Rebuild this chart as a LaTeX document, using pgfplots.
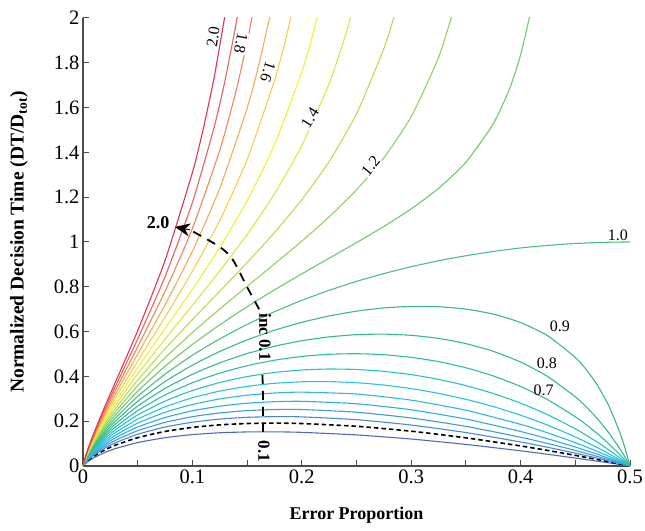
\documentclass[border=0pt]{standalone}
\usepackage{fontspec}
\setmainfont{Liberation Serif}
\usepackage{pgfplots}
\pgfplotsset{compat=1.18}
\usetikzlibrary{arrows.meta}

\definecolor{colbot}{RGB}{80,105,190}
\definecolor{col01}{RGB}{75,135,215}
\definecolor{col02}{RGB}{60,155,225}
\definecolor{col03}{RGB}{50,170,230}
\definecolor{col04}{RGB}{45,185,230}
\definecolor{col05}{RGB}{40,195,220}
\definecolor{col06}{RGB}{40,195,195}
\definecolor{col07}{RGB}{45,190,170}
\definecolor{col08}{RGB}{50,185,150}
\definecolor{col09}{RGB}{60,185,135}
\definecolor{col10}{RGB}{75,190,130}
\definecolor{col11}{RGB}{110,200,110}
\definecolor{col12}{RGB}{145,210,95}
\definecolor{col13}{RGB}{185,222,80}
\definecolor{col14}{RGB}{215,232,70}
\definecolor{col15}{RGB}{245,240,45}
\definecolor{col16}{RGB}{248,205,75}
\definecolor{col17}{RGB}{245,170,85}
\definecolor{col18}{RGB}{242,135,85}
\definecolor{col19}{RGB}{236,95,95}
\definecolor{col20}{RGB}{225,50,85}

\begin{document}
\begin{tikzpicture}
\begin{axis}[
  scale only axis, width=547pt, height=448pt,
  xmin=0, xmax=0.5, ymin=0, ymax=2,
  axis x line*=bottom, axis y line*=left,
  axis line style={line width=1.3pt, black!70},
  tick align=inside,
  xtick={0,0.1,0.2,0.3,0.4,0.5}, minor x tick num=1,
  ytick={0,0.2,0.4,0.6,0.8,1,1.2,1.4,1.6,1.8,2},
  major tick length=6pt, minor tick length=6pt,
  tick style={black!70, line width=1pt},
  /pgf/number format/assume math mode=true,
  ticklabel style={font=\fontsize{20.5}{22}\selectfont},
  xlabel={\textbf{Error Proportion}},
  ylabel={\textbf{Normalized Decision Time (DT/D\textsubscript{tot})}},
  xlabel style={font=\fontsize{18}{20}\selectfont\bfseries, at={(axis description cs:0.5,-0.109)}, anchor=center},
  ylabel style={font=\fontsize{19.5}{21}\selectfont\bfseries, at={(axis description cs:-0.117,0.5)}, anchor=center},
  clip mode=individual,
  crv/.style={line width=1.1pt, smooth, tension=0.35},
]
% lowest blue curve
\addplot[crv, colbot] coordinates {(0,0)(0.002,0.01041)(0.005,0.02181)(0.01,0.0370)(0.02,0.0604)(0.03,0.0783)(0.05,0.1046)(0.075,0.1264)(0.1,0.1402)(0.125,0.1483)(0.15,0.1521)(0.175,0.1526)(0.2,0.1502)(0.25,0.1388)(0.3,0.1204)(0.35,0.0963)(0.4,0.0678)(0.425,0.0521)(0.45,0.0355)(0.47,0.0217)(0.48,0.0146)(0.49,0.0073)(0.5,0)};
% optimal curve (dashed)
\addplot[black, line width=1.6pt, dash pattern=on 4.5pt off 3pt, smooth, tension=0.35] coordinates {(0,0)(0.002,0.01227)(0.005,0.02578)(0.01,0.04389)(0.02,0.0720)(0.03,0.0939)(0.05,0.1265)(0.075,0.1542)(0.1,0.1724)(0.125,0.1837)(0.15,0.1897)(0.175,0.1914)(0.2,0.1896)(0.25,0.1773)(0.3,0.1554)(0.35,0.1258)(0.4,0.0896)(0.425,0.0692)(0.45,0.0475)(0.47,0.0291)(0.48,0.0196)(0.49,0.0099)(0.5,0)};
% 0.1
\addplot[crv, col01] coordinates {(0,0)(0.002,0.01352)(0.005,0.02844)(0.01,0.04855)(0.02,0.0800)(0.03,0.1046)(0.05,0.1418)(0.075,0.1740)(0.1,0.1955)(0.125,0.2094)(0.15,0.2173)(0.175,0.2204)(0.2,0.2193)(0.25,0.2068)(0.3,0.1829)(0.35,0.1493)(0.4,0.1073)(0.425,0.0833)(0.45,0.0574)(0.47,0.0353)(0.48,0.0238)(0.49,0.0121)(0.5,0)};
% 0.2
\addplot[crv, col02] coordinates {(0,0)(0.002,0.01477)(0.005,0.03113)(0.01,0.0533)(0.02,0.0881)(0.03,0.1156)(0.05,0.1577)(0.075,0.1947)(0.1,0.2202)(0.125,0.2371)(0.15,0.2474)(0.175,0.2521)(0.2,0.2521)(0.25,0.2401)(0.3,0.2144)(0.35,0.1769)(0.4,0.1284)(0.425,0.1003)(0.45,0.0695)(0.47,0.0430)(0.48,0.0291)(0.49,0.0148)(0.5,0)};
% 0.3
\addplot[crv, col03] coordinates {(0,0)(0.002,0.01602)(0.005,0.03382)(0.01,0.0580)(0.02,0.0963)(0.03,0.1269)(0.05,0.1742)(0.075,0.2166)(0.1,0.2465)(0.125,0.2670)(0.15,0.2802)(0.175,0.2871)(0.2,0.2887)(0.25,0.2780)(0.3,0.2510)(0.35,0.2096)(0.4,0.1542)(0.425,0.1212)(0.45,0.0847)(0.47,0.0527)(0.48,0.0358)(0.49,0.0182)(0.5,0)};
% 0.4
\addplot[crv, col04] coordinates {(0,0)(0.002,0.01728)(0.005,0.03654)(0.01,0.0628)(0.02,0.1047)(0.03,0.1385)(0.05,0.1914)(0.075,0.2397)(0.1,0.2746)(0.125,0.2994)(0.15,0.3161)(0.175,0.3259)(0.2,0.3297)(0.25,0.3214)(0.3,0.2941)(0.35,0.2490)(0.4,0.1861)(0.425,0.1476)(0.45,0.1041)(0.47,0.0653)(0.48,0.0446)(0.49,0.0228)(0.5,0)};
% 0.5
\addplot[crv, col05] coordinates {(0,0)(0.002,0.01854)(0.005,0.03927)(0.01,0.0677)(0.02,0.1133)(0.03,0.1504)(0.05,0.2092)(0.075,0.2641)(0.1,0.3047)(0.125,0.3345)(0.15,0.3556)(0.175,0.3691)(0.2,0.3760)(0.225,0.3768)(0.25,0.3718)(0.275,0.3614)(0.3,0.3455)(0.325,0.3243)(0.35,0.2976)(0.375,0.2653)(0.4,0.2269)(0.425,0.1820)(0.45,0.1299)(0.46,0.1069)(0.47,0.0825)(0.48,0.0566)(0.49,0.0291)(0.5,0)};
% 0.6
\addplot[crv, col06] coordinates {(0,0)(0.002,0.01980)(0.005,0.04202)(0.01,0.0726)(0.02,0.1221)(0.03,0.1627)(0.05,0.2278)(0.075,0.2899)(0.1,0.3370)(0.125,0.3728)(0.15,0.3992)(0.175,0.4176)(0.2,0.4287)(0.225,0.4330)(0.25,0.4309)(0.275,0.4226)(0.3,0.4079)(0.325,0.3868)(0.35,0.3589)(0.375,0.3238)(0.4,0.2807)(0.425,0.2286)(0.45,0.1660)(0.46,0.1376)(0.47,0.1070)(0.48,0.0740)(0.49,0.0385)(0.5,0)};
% 0.7
\addplot[crv, col07] coordinates {(0,0)(0.002,0.02107)(0.005,0.04479)(0.01,0.0776)(0.02,0.1310)(0.03,0.1752)(0.05,0.2472)(0.075,0.3172)(0.1,0.3718)(0.125,0.4146)(0.15,0.4477)(0.175,0.4723)(0.2,0.4891)(0.225,0.4987)(0.25,0.5013)(0.275,0.4968)(0.3,0.4852)(0.325,0.4660)(0.35,0.4386)(0.375,0.4021)(0.4,0.3550)(0.425,0.2953)(0.45,0.2199)(0.46,0.1843)(0.47,0.1451)(0.48,0.1017)(0.49,0.0536)(0.495,0.0276)(0.5,0)};
% 0.8
\addplot[crv, col08] coordinates {(0,0)(0.002,0.02234)(0.005,0.04758)(0.01,0.0826)(0.02,0.1401)(0.03,0.1882)(0.05,0.2675)(0.075,0.3463)(0.1,0.4094)(0.125,0.4606)(0.15,0.5019)(0.175,0.5345)(0.2,0.5592)(0.225,0.5764)(0.25,0.5863)(0.275,0.5888)(0.3,0.5834)(0.325,0.5697)(0.35,0.5464)(0.375,0.5121)(0.4,0.4642)(0.425,0.3987)(0.45,0.3090)(0.46,0.2640)(0.47,0.2123)(0.48,0.1524)(0.49,0.0826)(0.495,0.0431)(0.5,0)};
% 0.9
\addplot[crv, col09] coordinates {(0,0)(0.002,0.02362)(0.005,0.05038)(0.01,0.0877)(0.02,0.1494)(0.03,0.2015)(0.05,0.2887)(0.075,0.3772)(0.1,0.4501)(0.125,0.5113)(0.15,0.5628)(0.175,0.6060)(0.2,0.6415)(0.225,0.6698)(0.25,0.6912)(0.275,0.7056)(0.3,0.7125)(0.325,0.7112)(0.35,0.7005)(0.375,0.6782)(0.4,0.6405)(0.425,0.5806)(0.45,0.4847)(0.46,0.4305)(0.47,0.3624)(0.48,0.2751)(0.49,0.1596)(0.495,0.0867)(0.5,0)};
% 1.0
\addplot[crv, col10] coordinates {(0,0)(0.002,0.02490)(0.005,0.05320)(0.01,0.0928)(0.02,0.1589)(0.03,0.2152)(0.05,0.3108)(0.075,0.4101)(0.1,0.4944)(0.125,0.5675)(0.15,0.6319)(0.175,0.6889)(0.2,0.7394)(0.225,0.7842)(0.25,0.8240)(0.275,0.8591)(0.3,0.8897)(0.325,0.9162)(0.35,0.9386)(0.375,0.9577)(0.4,0.9735)(0.425,0.9850)(0.45,0.9934)(0.47,0.9976)(0.48,0.9989)(0.49,0.9997)(0.5,1.0)};
% 1.1
\addplot[crv, col11] coordinates {(0,0)(0.002,0.02618)(0.005,0.05604)(0.01,0.0981)(0.02,0.1686)(0.03,0.2293)(0.05,0.3340)(0.075,0.4453)(0.1,0.5427)(0.125,0.6303)(0.15,0.7108)(0.175,0.7861)(0.2,0.8578)(0.225,0.9275)(0.25,0.9972)(0.275,1.0694)(0.3,1.1478)(0.325,1.2393)(0.35,1.3561)(0.375,1.5274)(0.39,1.685)(0.4,1.8355)(0.41,2.0525)(0.42,2.398)};
% 1.2
\addplot[crv, col12] coordinates {(0,0)(0.002,0.02747)(0.005,0.05890)(0.01,0.1033)(0.02,0.1785)(0.03,0.2439)(0.05,0.3582)(0.075,0.4829)(0.1,0.5955)(0.125,0.7007)(0.15,0.8018)(0.175,0.9018)(0.2,1.0039)(0.225,1.1122)(0.25,1.2327)(0.275,1.3755)(0.3,1.5593)(0.325,1.8238)(0.34,2.059)(0.35,2.276)};
% 1.3
\addplot[crv, col13] coordinates {(0,0)(0.002,0.02876)(0.005,0.06177)(0.01,0.1086)(0.02,0.1886)(0.03,0.2589)(0.05,0.3837)(0.075,0.5233)(0.1,0.6536)(0.125,0.7803)(0.15,0.9080)(0.175,1.0420)(0.2,1.1889)(0.225,1.3594)(0.25,1.5719)(0.275,1.8629)(0.285,2.017)(0.295,2.206)};
% 1.4
\addplot[crv, col14] coordinates {(0,0)(0.002,0.03005)(0.005,0.06467)(0.01,0.1140)(0.02,0.1989)(0.03,0.2743)(0.05,0.4104)(0.075,0.5668)(0.1,0.7178)(0.125,0.8709)(0.15,1.0334)(0.175,1.2149)(0.2,1.4304)(0.225,1.7074)(0.24,1.924)(0.25,2.102)};
% 1.5
\addplot[crv, col15] coordinates {(0,0)(0.002,0.03135)(0.005,0.06758)(0.01,0.1195)(0.02,0.2095)(0.03,0.2903)(0.05,0.4385)(0.075,0.6137)(0.1,0.7892)(0.125,0.9752)(0.15,1.1839)(0.175,1.4339)(0.2,1.7596)(0.21,1.925)(0.22,2.120)};
% 1.6
\addplot[crv, col16] coordinates {(0,0)(0.002,0.03265)(0.005,0.07051)(0.01,0.1250)(0.02,0.2203)(0.03,0.3067)(0.05,0.4681)(0.075,0.6645)(0.1,0.8690)(0.125,1.0963)(0.15,1.3676)(0.175,1.7203)(0.185,1.899)(0.195,2.111)};
% 1.7
\addplot[crv, col17] coordinates {(0,0)(0.002,0.03396)(0.005,0.07346)(0.01,0.1306)(0.02,0.2313)(0.03,0.3237)(0.05,0.4994)(0.075,0.7196)(0.1,0.9586)(0.125,1.2389)(0.15,1.5972)(0.16,1.777)(0.17,1.989)(0.175,2.111)};
% 1.8
\addplot[crv, col18] coordinates {(0,0)(0.002,0.03527)(0.005,0.07643)(0.01,0.1363)(0.02,0.2426)(0.03,0.3413)(0.05,0.5323)(0.075,0.7797)(0.1,1.0602)(0.125,1.4088)(0.14,1.676)(0.15,1.8925)(0.155,2.016)};
% 1.9
\addplot[crv, col19] coordinates {(0,0)(0.002,0.03658)(0.005,0.07942)(0.01,0.1420)(0.02,0.2541)(0.03,0.3594)(0.05,0.5672)(0.075,0.8453)(0.1,1.1762)(0.12,1.515)(0.13,1.725)(0.14,1.976)(0.145,2.122)};
% 2.0
\addplot[crv, col20] coordinates {(0,0)(0.002,0.03790)(0.005,0.08243)(0.01,0.1478)(0.02,0.2659)(0.03,0.3782)(0.05,0.6041)(0.075,0.9174)(0.1,1.3101)(0.11,1.5065)(0.12,1.738)(0.13,2.019)(0.135,2.185)};

% dashed arrow across the family
\addplot[black, line width=1.8pt, dash pattern=on 9pt off 7pt, smooth] coordinates {(0.1645,0.152)(0.1645,0.30)(0.164,0.42)};
\addplot[black, line width=1.8pt, dash pattern=on 9pt off 7pt, smooth] coordinates {(0.161,0.70)(0.150,0.799)(0.137,0.920)(0.125,0.978)(0.0978,1.054)};
\addplot[black, line width=1pt, -{Stealth[length=15pt,width=13pt]}] coordinates {(0.0978,1.054)(0.0841,1.067)};

% labels
\node[font=\fontsize{18}{20}\selectfont\bfseries] at (axis cs:0.0686,1.085) {2.0};
\node[font=\fontsize{17}{19}\selectfont\bfseries, rotate=-90] at (axis cs:0.1664,0.576) {inc 0.1};
\node[font=\fontsize{17}{19}\selectfont\bfseries, rotate=-90] at (axis cs:0.1654,0.065) {0.1};

\node[font=\fontsize{16}{18}\selectfont, rotate=82] at (axis cs:0.119,1.915) {2.0};
\node[font=\fontsize{16}{18}\selectfont, rotate=-100, fill=white, inner sep=1pt] at (axis cs:0.1444,1.888) {1.8};
\node[font=\fontsize{16}{18}\selectfont, rotate=-108, fill=white, inner sep=1pt] at (axis cs:0.169,1.759) {1.6};
\node[font=\fontsize{16}{18}\selectfont, rotate=58, fill=white, inner sep=1pt] at (axis cs:0.2075,1.554) {1.4};
\node[font=\fontsize{16}{18}\selectfont, rotate=50, fill=white, inner sep=1pt] at (axis cs:0.263,1.339) {1.2};
\node[font=\fontsize{16}{18}\selectfont] at (axis cs:0.489,1.028) {1.0};
\node[font=\fontsize{16}{18}\selectfont] at (axis cs:0.436,0.625) {0.9};
\node[font=\fontsize{16}{18}\selectfont] at (axis cs:0.424,0.46) {0.8};
\node[font=\fontsize{16}{18}\selectfont] at (axis cs:0.421,0.339) {0.7};
\end{axis}
\pgfresetboundingbox
\path ([shift={(-83pt,-64pt)}]current axis.south west) rectangle ([shift={(15pt,18pt)}]current axis.north east);
\end{tikzpicture}
\end{document}
